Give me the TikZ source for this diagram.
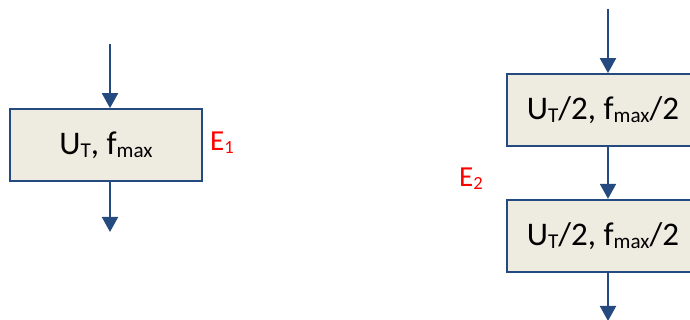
\documentclass[tikz,border=0pt]{standalone}
\usepackage{fontspec}
\setmainfont{Carlito}
\usepackage{tikz}
\usetikzlibrary{arrows.meta,positioning}
\definecolor{boxblue}{RGB}{37,74,128}
\definecolor{boxfill}{RGB}{238,236,225}
\makeatletter
\newcommand{\lowsub}[1]{\raisebox{-0.1em}{\fontsize{\fpeval{0.64*\f@size}}{0}\selectfont #1}}
\makeatother
\tikzset{
    stagebox/.style={draw=boxblue, line width=1.7pt, fill=boxfill, align=center, minimum width=192pt, minimum height=72pt, inner sep=0pt, font=\fontsize{33}{40}\selectfont},
    stagearrow/.style={-{Triangle[width=16pt,length=15pt]}, line width=2pt, draw=boxblue},
    stagelabel/.style={text=red, inner sep=0pt, anchor=west, font=\fontsize{29}{32}\selectfont}
}

\begin{document}
\begin{tikzpicture}[x=1pt, y=1pt, node distance=52pt]
        \useasboundingbox (0,0) rectangle (690,320);
        \clip (0,0) rectangle (690,320);
        % single stage
        \node[stagebox] (whole) at (106,175) {U\lowsub{T}, f\lowsub{max}};
        \node[stagelabel] (e1) at (210,177) {E\lowsub{1}};
        \coordinate (win) at (110,276);
        \coordinate (wout) at (110,88);
        % two half stages
        \node[stagebox] (halfa) at (603,210) {U\lowsub{T}/2, f\lowsub{max}/2};
        \node[stagebox, below=of halfa] (halfb) {U\lowsub{T}/2, f\lowsub{max}/2};
        \node[stagelabel] (e2) at (459,141) {E\lowsub{2}};
        \coordinate (hin) at (608,311);
        \coordinate (hout) at (608,-1);

        \draw[stagearrow] (win) -- (win |- whole.north);
        \draw[stagearrow] (win |- whole.south) -- (wout);
        \draw[stagearrow] (hin) -- (hin |- halfa.north);
        \draw[stagearrow] (hin |- halfa.south) -- (hin |- halfb.north);
        \draw[stagearrow] (hin |- halfb.south) -- (hout);
    \end{tikzpicture}
\end{document}
